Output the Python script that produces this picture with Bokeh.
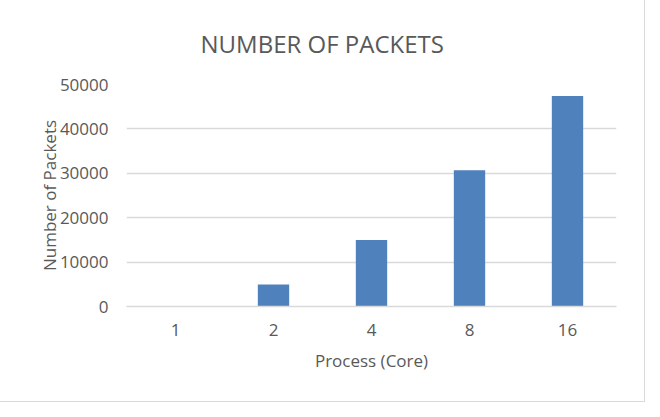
from bokeh.plotting import figure
from bokeh.models import ColumnDataSource, FactorRange, Range1d, FixedTicker
from bokeh.embed import file_html
from bokeh.resources import INLINE

categories = ["1", "2", "4", "8", "16"]
packets = [0, 4950, 14950, 30700, 47400]
y_ticks = [0, 10000, 20000, 30000, 40000, 50000]

TEXT = "#595959"
GRID = "#D9D9D9"
BAR = "#4F81BD"
FONT = "Open Sans"

src = ColumnDataSource(data=dict(cat=categories, val=packets))

p = figure(
    x_range=FactorRange(*categories),
    y_range=Range1d(0, 50000),
    frame_width=490, frame_height=222,
    min_border_left=126, min_border_right=28,
    min_border_top=84, min_border_bottom=95,
    output_backend="svg", toolbar_location=None,
    title="NUMBER OF PACKETS",
)

p.vbar(x="cat", top="val", width=0.32, source=src, color=BAR, line_color=None)

p.title.text_font = FONT
p.title.text_font_size = "24px"
p.title.text_font_style = "normal"
p.title.text_color = TEXT
p.title.align = "left"
p.title.offset = 74
p.title.standoff = 49

p.outline_line_color = None
p.background_fill_color = "white"
p.border_fill_color = "white"

p.xgrid.grid_line_color = None
p.ygrid.grid_line_color = GRID
p.ygrid.grid_line_width = 1.3

p.yaxis.ticker = FixedTicker(ticks=y_ticks)
p.yaxis.axis_line_color = None
p.yaxis.major_label_standoff = 18
p.yaxis.axis_label = "Number of Packets"
p.yaxis.axis_label_standoff = -4

p.xaxis.axis_line_color = GRID
p.xaxis.axis_line_width = 1.3
p.xaxis.major_label_standoff = 17
p.xaxis.axis_label = "Process (Core)"
p.xaxis.axis_label_standoff = 10

for ax in (p.xaxis, p.yaxis):
    ax.major_tick_line_color = None
    ax.minor_tick_line_color = None
    ax.major_tick_out = 0
    ax.major_tick_in = 0
    ax.minor_tick_out = 0
    ax.minor_tick_in = 0
    ax.major_label_text_font = FONT
    ax.major_label_text_font_size = "17px"
    ax.major_label_text_color = TEXT
    ax.axis_label_text_font = FONT
    ax.axis_label_text_font_size = "17px"
    ax.axis_label_text_font_style = "normal"
    ax.axis_label_text_color = TEXT

p.styles = {"outline": "1px solid #D9D9D9"}

open("out.html", "w").write(file_html(p, INLINE))
